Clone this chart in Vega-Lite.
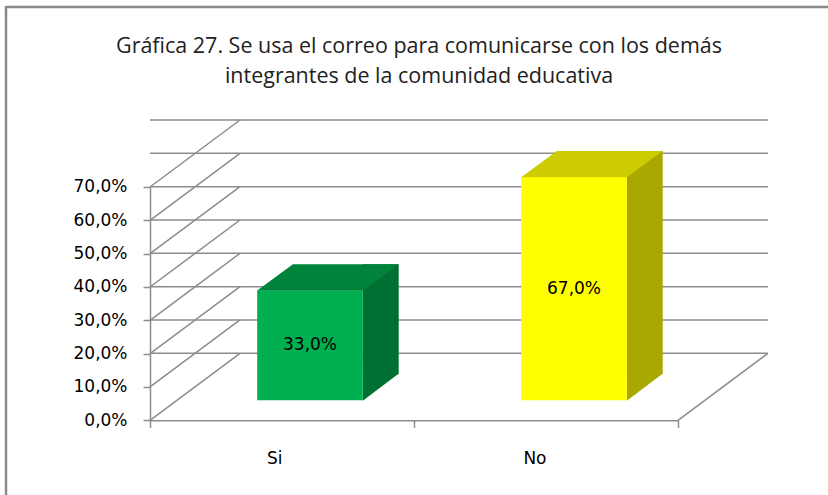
{
  "$schema": "https://vega.github.io/schema/vega-lite/v6.json",
  "width": 528,
  "height": 233.3,
  "autosize": {"type": "none"},
  "padding": {"left": 150, "top": 187, "right": 150, "bottom": 75},
  "background": "white",
  "config": {
    "view": {"stroke": null},
    "locale": {"number": {"decimal": ",", "thousands": ".", "grouping": [3], "currency": ["", " €"]}},
    "axis": {"labelFont": "DejaVu Sans", "labelFontSize": 17, "labelColor": "#000000", "domainColor": "#8c8c8c", "tickColor": "#8c8c8c", "domainWidth": 1.5, "tickWidth": 1.5, "tickSize": 7, "grid": false, "title": null, "labelOverlap": false, "labelFlush": false}
  },
  "title": {
    "text": ["Gráfica 27. Se usa el correo para comunicarse con los demás", "integrantes de la comunidad educativa"],
    "font": "Open Sans",
    "fontSize": 21.5,
    "fontWeight": "normal",
    "color": "#222222",
    "lineHeight": 30,
    "anchor": "middle",
    "dx": 5,
    "offset": -82.5
  },
  "datasets": {
    "bars": [{"cat": "Si", "pct": 0.33}, {"cat": "No", "pct": 0.67}],
    "ticks": [{"v": 0}, {"v": 0.1}, {"v": 0.2}, {"v": 0.3}, {"v": 0.4}, {"v": 0.5}, {"v": 0.6}, {"v": 0.7}],
    "corner": [{"v": 0}]
  },
  "resolve": {"scale": {"y": "independent"}},
  "layer": [
    {
      "resolve": {"scale": {"fill": "independent"}},
      "layer": [
        {
          "data": {"name": "corner"},
          "mark": {"type": "rule", "color": "#8a8a8a", "strokeWidth": 2.5, "xOffset": -144, "x2Offset": 150, "yOffset": -180},
          "encoding": {
            "x": {"datum": "Si", "type": "nominal", "bandPosition": 0},
            "x2": {"datum": "No", "bandPosition": 1},
            "y": {"datum": 0.7, "type": "quantitative"}
          }
        },
        {
          "data": {"name": "corner"},
          "mark": {"type": "rule", "color": "#8a8a8a", "strokeWidth": 2.5, "xOffset": -144, "x2Offset": -144, "yOffset": -181, "y2Offset": 80},
          "encoding": {
            "x": {"datum": "Si", "type": "nominal", "bandPosition": 0},
            "x2": {"datum": "Si", "bandPosition": 0},
            "y": {"datum": 0.7, "type": "quantitative"},
            "y2": {"datum": 0}
          }
        },
        {
          "data": {"name": "ticks"},
          "mark": {"type": "rule", "color": "#8c8c8c", "strokeWidth": 1.5, "xOffset": 90, "x2Offset": 90, "yOffset": -67},
          "encoding": {
            "y": {"field": "v", "type": "quantitative", "scale": {"domain": [0, 0.7]},
                  "axis": {"values": [0, 0.1, 0.2, 0.3, 0.4, 0.5, 0.6, 0.7], "format": ".1%", "labelPadding": 16, "labelOverlap": false, "tickCount": 8}}
          }
        },
        {
          "data": {"name": "ticks"},
          "mark": {"type": "rule", "color": "#8c8c8c", "strokeWidth": 1.5, "x2Offset": 90, "y2Offset": -67},
          "encoding": {
            "x": {"datum": "Si", "type": "nominal", "bandPosition": 0},
            "x2": {"datum": "Si", "bandPosition": 0},
            "y": {"field": "v", "type": "quantitative"},
            "y2": {"field": "v"}
          }
        },
        {
          "data": {"name": "corner"},
          "mark": {"type": "rule", "color": "#8c8c8c", "strokeWidth": 1.5, "x2Offset": 90, "y2Offset": -67},
          "encoding": {
            "x": {"datum": "No", "type": "nominal", "bandPosition": 1},
            "x2": {"datum": "No", "bandPosition": 1},
            "y": {"field": "v", "type": "quantitative"},
            "y2": {"field": "v"}
          }
        },
        {
          "data": {"name": "bars"},
          "mark": {"type": "bar", "width": 36, "xOffset": 98.7, "yOffset": -46, "y2Offset": -46},
          "encoding": {
            "x": {"field": "cat", "type": "nominal", "sort": ["Si", "No"],
                  "scale": {"paddingInner": 0, "paddingOuter": 0},
                  "axis": {"labelAngle": 0, "tickBand": "extent", "labelPadding": 31}},
            "y": {"field": "pct", "type": "quantitative"},
            "fill": {"field": "cat", "type": "nominal", "scale": {"domain": ["Si", "No"], "range": ["#007032", "#A8A800"]}, "legend": null}
          }
        },
        {
          "data": {"name": "bars"},
          "mark": {"type": "point", "filled": true, "opacity": 1, "size": 4, "xOffset": 28, "yOffset": -20,
                   "shape": "M52.8,0.5L52.8,-26.5L88.5,-26.5Z"},
          "encoding": {
            "x": {"field": "cat", "type": "nominal", "sort": ["Si", "No"]},
            "y": {"datum": 0, "type": "quantitative"},
            "fill": {"field": "cat", "type": "nominal", "scale": {"domain": ["Si", "No"], "range": ["#007032", "#A8A800"]}, "legend": null}
          }
        },
        {
          "data": {"name": "bars"},
          "mark": {"type": "bar", "width": {"band": 0.4}, "xOffset": 28, "yOffset": -20, "y2Offset": -20},
          "encoding": {
            "x": {"field": "cat", "type": "nominal", "sort": ["Si", "No"]},
            "y": {"field": "pct", "type": "quantitative"},
            "fill": {"field": "cat", "type": "nominal", "scale": {"domain": ["Si", "No"], "range": ["#00B050", "#FFFF00"]}, "legend": null}
          }
        },
        {
          "data": {"name": "bars"},
          "mark": {"type": "point", "filled": true, "opacity": 1, "size": 4, "xOffset": 28, "yOffset": -20,
                   "shape": "M-52.8,0.3L52.8,0.3L88.5,-26L-17.1,-26Z"},
          "encoding": {
            "x": {"field": "cat", "type": "nominal", "sort": ["Si", "No"]},
            "y": {"field": "pct", "type": "quantitative"},
            "fill": {"field": "cat", "type": "nominal", "scale": {"domain": ["Si", "No"], "range": ["#00843C", "#CCCC00"]}, "legend": null}
          }
        }
      ]
    },
    {
      "data": {"name": "bars"},
      "mark": {"type": "text", "xOffset": 28, "yOffset": -20, "font": "DejaVu Sans", "fontSize": 17, "color": "#000000", "baseline": "middle"},
      "encoding": {
        "x": {"field": "cat", "type": "nominal", "sort": ["Si", "No"]},
        "y": {"field": "pct", "type": "quantitative", "scale": {"domain": [0, 1.4]}, "axis": null},
        "text": {"field": "pct", "type": "quantitative", "format": ".1%"}
      }
    }
  ]
}
